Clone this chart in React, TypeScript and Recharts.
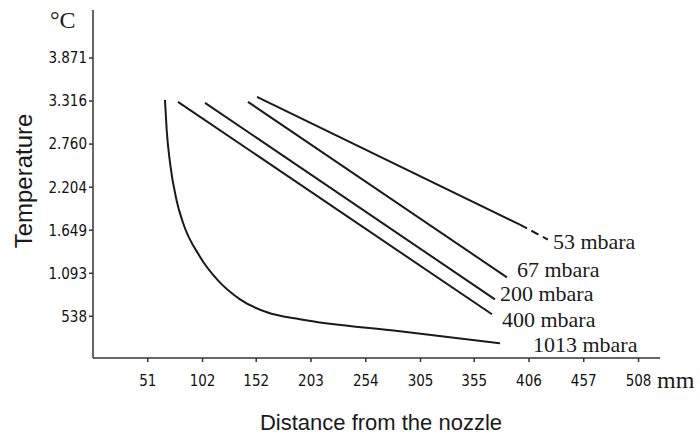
import { LineChart, Line, XAxis, YAxis, Label } from 'recharts';

// distance from the nozzle (mm) and temperature (°C)
const xTicks = [51, 102, 152, 203, 254, 305, 355, 406, 457, 508];
const yTicks = [538, 1093, 1649, 2204, 2760, 3316, 3871];

const dist1013 = [67, 68.6, 71.7, 77.9, 83.8, 99.6, 115.5, 136.9, 162, 192.7, 285.8, 379];
const temp1013 = [3331, 2945, 2520, 2030, 1745, 1307, 1014, 757, 590, 499, 345, 190];

const dist400 = [79.1, 371.5];
const temp400 = [3305, 564];

const dist200 = [104.3, 374.3];
const temp200 = [3292, 757];

const dist67 = [144.3, 385.5];
const temp67 = [3305, 1040];

const dist53 = [152.7, 397.6];
const temp53 = [3369, 1721];
const dist53Dashed = [397.6, 423.6];
const temp53Dashed = [1721, 1528];

const INK = '#1a1a1a';
const SERIF = '"Liberation Serif", "DejaVu Serif", serif';
const SANS = '"Liberation Sans", Arial, sans-serif';
const TICK_FONT = '"DejaVu Sans Condensed", "DejaVu Sans", sans-serif';

function toPoints(dist: number[], temp: number[]) {
  return dist.map((x, i) => ({ x, t: temp[i] }));
}

function formatTemp(v: number) {
  const s = String(v);
  if (v < 1000) return s;
  return s.slice(0, -3) + '.' + s.slice(-3);
}

function endLabel(text: string, count: number, dx: number, dy: number) {
  return (p: any) =>
    p.index === count - 1 ? (
      <text x={p.x + dx} y={p.y + dy} fill={INK} fontFamily={SERIF} fontSize={22}>
        {text}
      </text>
    ) : (
      <g />
    );
}

export default function App() {
  return (
    <div style={{ position: 'absolute', left: 0, top: 0, width: 700, height: 437, background: '#fff' }}>
      <LineChart width={700} height={437} margin={{ top: 10, right: 40, bottom: 0, left: 0 }}>
        <XAxis
          dataKey="x"
          type="number"
          domain={[0, 528]}
          allowDataOverflow
          ticks={xTicks}
          height={79}
          stroke="#333"
          strokeWidth={1.5}
          tickSize={4}
          tickMargin={13}
          tick={{ fill: '#111', fontSize: 15, fontFamily: TICK_FONT }}
        >
          <Label
            content={() => (
              <g>
                <text x={657} y={388} fill={INK} fontFamily={SERIF} fontSize={24}>
                  mm
                </text>
                <text x={381} y={430} textAnchor="middle" fill={INK} fontFamily={SANS} fontSize={22}>
                  Distance from the nozzle
                </text>
              </g>
            )}
          />
        </XAxis>
        <YAxis
          dataKey="t"
          type="number"
          domain={[0, 4490]}
          allowDataOverflow
          ticks={yTicks}
          width={93}
          stroke="#333"
          strokeWidth={1.5}
          tickSize={4}
          tickMargin={2}
          tickFormatter={formatTemp}
          tick={{ fill: '#111', fontSize: 15, fontFamily: TICK_FONT }}
        >
          <Label
            content={() => (
              <g>
                <text x={50} y={28} fill={INK} fontFamily={SERIF} fontSize={24}>
                  °C
                </text>
                <text
                  x={0}
                  y={0}
                  transform="translate(32, 181) rotate(-90)"
                  textAnchor="middle"
                  fill={INK}
                  fontFamily={SANS}
                  fontSize={24}
                >
                  Temperature
                </text>
              </g>
            )}
          />
        </YAxis>
        <Line
          data={toPoints(dist1013, temp1013)}
          dataKey="t"
          type="monotone"
          stroke={INK}
          strokeWidth={2}
          dot={false}
          isAnimationActive={false}
          label={endLabel('1013 mbara', dist1013.length, 33, 9)}
        />
        <Line
          data={toPoints(dist400, temp400)}
          dataKey="t"
          type="linear"
          stroke={INK}
          strokeWidth={2}
          dot={false}
          isAnimationActive={false}
          label={endLabel('400 mbara', dist400.length, 10, 13)}
        />
        <Line
          data={toPoints(dist200, temp200)}
          dataKey="t"
          type="linear"
          stroke={INK}
          strokeWidth={2}
          dot={false}
          isAnimationActive={false}
          label={endLabel('200 mbara', dist200.length, 5, 2)}
        />
        <Line
          data={toPoints(dist67, temp67)}
          dataKey="t"
          type="linear"
          stroke={INK}
          strokeWidth={2}
          dot={false}
          isAnimationActive={false}
          label={endLabel('67 mbara', dist67.length, 10, 0)}
        />
        <Line
          data={toPoints(dist53, temp53)}
          dataKey="t"
          type="linear"
          stroke={INK}
          strokeWidth={2}
          dot={false}
          isAnimationActive={false}
        />
        <Line
          data={toPoints(dist53Dashed, temp53Dashed)}
          dataKey="t"
          type="linear"
          stroke={INK}
          strokeWidth={2}
          strokeDasharray="8 5"
          dot={false}
          isAnimationActive={false}
          label={endLabel('53 mbara', dist53Dashed.length, 5, 9)}
        />
      </LineChart>
    </div>
  );
}
